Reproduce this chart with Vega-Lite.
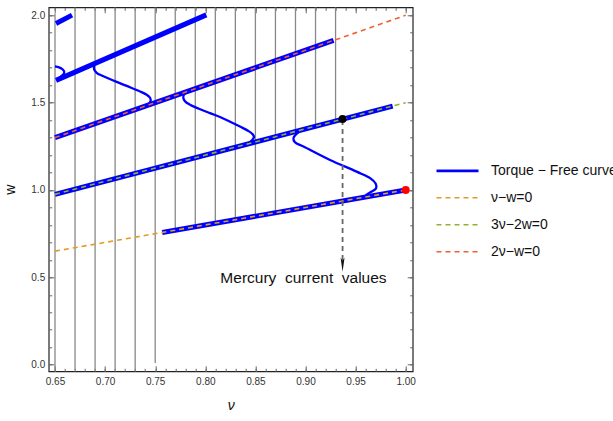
{
  "$schema": "https://vega.github.io/schema/vega-lite/v6.json",
  "width": 364,
  "height": 364,
  "autosize": {"type": "none"},
  "padding": {"left": 48.7, "top": 7.3, "right": 200.3, "bottom": 49.7},
  "background": "white",
  "config": {
    "view": {"stroke": "#222", "strokeWidth": 1.2},
    "axis": {"grid": false, "domain": false, "labelFont": "Liberation Sans", "labelFontSize": 10, "labelColor": "#333", "tickColor": "#666", "tickWidth": 1, "titleFont": "Liberation Sans", "titleFontSize": 14, "titleFontWeight": "normal", "titleColor": "#111", "labelFlush": false, "labelOverlap": false},
    "legend": {"orient": "none", "legendX": 386.3, "legendY": 155.5, "padding": 0, "symbolSize": 1764, "clipHeight": 16, "rowPadding": 11, "labelOffset": 11, "labelFont": "Liberation Sans", "labelFontSize": 14, "labelColor": "#111", "labelLimit": 300, "symbolOpacity": 1}
  },
  "datasets": {
    "verts": [
      {"nu": 0.65, "lo": -0.037, "hi": 2.01},
      {"nu": 0.67, "lo": -0.03, "hi": 2.045},
      {"nu": 0.69, "lo": -0.035, "hi": 2.045},
      {"nu": 0.71, "lo": -0.035, "hi": 2.045},
      {"nu": 0.73, "lo": -0.035, "hi": 2.045},
      {"nu": 0.75, "lo": 0.01, "hi": 2.045},
      {"nu": 0.77, "lo": 0.77, "hi": 2.045},
      {"nu": 0.79, "lo": 0.79, "hi": 2.045},
      {"nu": 0.81, "lo": 0.81, "hi": 2.045},
      {"nu": 0.83, "lo": 0.83, "hi": 2.045},
      {"nu": 0.85, "lo": 0.85, "hi": 2.045},
      {"nu": 0.87, "lo": 0.87, "hi": 2.045},
      {"nu": 0.89, "lo": 1.335, "hi": 2.045},
      {"nu": 0.91, "lo": 1.365, "hi": 2.045},
      {"nu": 0.93, "lo": 1.395, "hi": 2.045}
    ],
    "thick": [
      {"seg": "A", "i": 0, "nu": 0.757, "w": 0.757},
      {"seg": "A", "i": 1, "nu": 1.0, "w": 1.0},
      {"seg": "B", "i": 0, "nu": 0.65, "w": 0.975},
      {"seg": "B", "i": 1, "nu": 0.987, "w": 1.4805},
      {"seg": "C", "i": 0, "nu": 0.65, "w": 1.3},
      {"seg": "C", "i": 1, "nu": 0.928, "w": 1.856},
      {"seg": "D", "i": 0, "nu": 0.651, "w": 1.6275},
      {"seg": "D", "i": 1, "nu": 0.801, "w": 2.0025},
      {"seg": "E", "i": 0, "nu": 0.651, "w": 1.953},
      {"seg": "E", "i": 1, "nu": 0.667, "w": 2.001}
    ],
    "thin": [
      {"seg": "S1", "i": 0, "nu": 0.650, "w": 1.707},
      {"seg": "S1", "i": 1, "nu": 0.654, "w": 1.702},
      {"seg": "S1", "i": 2, "nu": 0.657, "w": 1.693},
      {"seg": "S1", "i": 3, "nu": 0.659, "w": 1.680},
      {"seg": "S1", "i": 4, "nu": 0.659, "w": 1.668},
      {"seg": "S1", "i": 5, "nu": 0.657, "w": 1.655},
      {"seg": "S1", "i": 6, "nu": 0.655, "w": 1.645},
      {"seg": "S2", "i": 0, "nu": 0.6892, "w": 1.722},
      {"seg": "S2", "i": 1, "nu": 0.689, "w": 1.690},
      {"seg": "S2", "i": 2, "nu": 0.6916, "w": 1.671},
      {"seg": "S2", "i": 3, "nu": 0.6966, "w": 1.655},
      {"seg": "S2", "i": 4, "nu": 0.7216, "w": 1.596},
      {"seg": "S2", "i": 5, "nu": 0.7349, "w": 1.564},
      {"seg": "S2", "i": 6, "nu": 0.7415, "w": 1.545},
      {"seg": "S2", "i": 7, "nu": 0.7448, "w": 1.528},
      {"seg": "S2", "i": 8, "nu": 0.7455, "w": 1.512},
      {"seg": "S2", "i": 9, "nu": 0.7441, "w": 1.497},
      {"seg": "S2", "i": 10, "nu": 0.7415, "w": 1.484},
      {"seg": "S3", "i": 0, "nu": 0.7797, "w": 1.557},
      {"seg": "S3", "i": 1, "nu": 0.778, "w": 1.531},
      {"seg": "S3", "i": 2, "nu": 0.7797, "w": 1.508},
      {"seg": "S3", "i": 3, "nu": 0.7847, "w": 1.488},
      {"seg": "S3", "i": 4, "nu": 0.8047, "w": 1.440},
      {"seg": "S3", "i": 5, "nu": 0.8147, "w": 1.418},
      {"seg": "S3", "i": 6, "nu": 0.8346, "w": 1.363},
      {"seg": "S3", "i": 7, "nu": 0.843, "w": 1.338},
      {"seg": "S3", "i": 8, "nu": 0.8475, "w": 1.318},
      {"seg": "S3", "i": 9, "nu": 0.8486, "w": 1.302},
      {"seg": "S3", "i": 10, "nu": 0.8463, "w": 1.283},
      {"seg": "S3", "i": 11, "nu": 0.843, "w": 1.267},
      {"seg": "S4", "i": 0, "nu": 0.8945, "w": 1.338},
      {"seg": "S4", "i": 1, "nu": 0.888, "w": 1.297},
      {"seg": "S4", "i": 2, "nu": 0.8895, "w": 1.273},
      {"seg": "S4", "i": 3, "nu": 0.898, "w": 1.249},
      {"seg": "S4", "i": 4, "nu": 0.9245, "w": 1.172},
      {"seg": "S4", "i": 5, "nu": 0.951, "w": 1.105},
      {"seg": "S4", "i": 6, "nu": 0.9645, "w": 1.068},
      {"seg": "S4", "i": 7, "nu": 0.970, "w": 1.037},
      {"seg": "S4", "i": 8, "nu": 0.9705, "w": 1.010},
      {"seg": "S4", "i": 9, "nu": 0.966, "w": 0.991},
      {"seg": "S4", "i": 10, "nu": 0.960, "w": 0.970}
    ],
    "dashed": [
      {"series": "ν−w=0", "nu": 0.65, "w": 0.65},
      {"series": "ν−w=0", "nu": 1.0, "w": 1.0},
      {"series": "3ν−2w=0", "nu": 0.65, "w": 0.975},
      {"series": "3ν−2w=0", "nu": 1.0, "w": 1.5},
      {"series": "2ν−w=0", "nu": 0.65, "w": 1.3},
      {"series": "2ν−w=0", "nu": 1.0, "w": 2.0}
    ]
  },
  "resolve": {"axis": {"x": "independent", "y": "independent"}},
  "layer": [
    {
      "data": {"name": "verts"},
      "mark": {"type": "rule", "color": "#888", "strokeWidth": 1.3},
      "encoding": {
        "x": {"field": "nu", "type": "quantitative", "scale": {"domain": [0.64371, 1.00699], "nice": false, "zero": false},
              "axis": {"orient": "bottom", "values": [0.65, 0.7, 0.75, 0.8, 0.85, 0.9, 0.95, 1.0], "format": ".2f", "ticks": false, "labelPadding": 5, "title": "ν", "titleFontStyle": "italic", "titlePadding": 12}},
        "y": {"field": "lo", "type": "quantitative", "scale": {"domain": [-0.0378, 2.0458], "nice": false, "zero": false},
              "axis": {"orient": "left", "values": [0, 0.5, 1, 1.5, 2], "format": ".1f", "ticks": false, "labelPadding": 4, "title": "w", "titlePadding": 13}},
        "y2": {"field": "hi"}
      }
    },
    {
      "data": {"name": "thick"},
      "mark": {"type": "line", "strokeWidth": 5},
      "encoding": {
        "x": {"field": "nu", "type": "quantitative", "scale": {"domain": [0.64371, 1.00699], "nice": false, "zero": false},
              "axis": {"orient": "bottom", "values": [0.65, 0.7, 0.75, 0.8, 0.85, 0.9, 0.95, 1.0], "labels": false, "tickSize": -5.5, "title": null}},
        "y": {"field": "w", "type": "quantitative", "scale": {"domain": [-0.0378, 2.0458], "nice": false, "zero": false},
              "axis": {"orient": "left", "values": [0, 0.5, 1, 1.5, 2], "labels": false, "tickSize": -5.5, "title": null}},
        "detail": {"field": "seg"},
        "order": {"field": "i"},
        "color": {"datum": "Torque − Free curve"}
      }
    },
    {
      "data": {"name": "thin"},
      "mark": {"type": "line", "strokeWidth": 2.3, "interpolate": "catmull-rom"},
      "encoding": {
        "x": {"field": "nu", "type": "quantitative", "scale": {"domain": [0.64371, 1.00699], "nice": false, "zero": false},
              "axis": {"orient": "bottom", "values": [0.65,0.66,0.67,0.68,0.69,0.7,0.71,0.72,0.73,0.74,0.75,0.76,0.77,0.78,0.79,0.8,0.81,0.82,0.83,0.84,0.85,0.86,0.87,0.88,0.89,0.9,0.91,0.92,0.93,0.94,0.95,0.96,0.97,0.98,0.99,1.0], "labels": false, "tickSize": -3, "title": null}},
        "y": {"field": "w", "type": "quantitative", "scale": {"domain": [-0.0378, 2.0458], "nice": false, "zero": false},
              "axis": {"orient": "left", "values": [0,0.1,0.2,0.3,0.4,0.5,0.6,0.7,0.8,0.9,1.0,1.1,1.2,1.3,1.4,1.5,1.6,1.7,1.8,1.9,2.0], "labels": false, "tickSize": -3, "title": null}},
        "detail": {"field": "seg"},
        "order": {"field": "i"},
        "color": {"datum": "Torque − Free curve"}
      }
    },
    {
      "data": {"name": "dashed"},
      "mark": {"type": "line"},
      "encoding": {
        "x": {"field": "nu", "type": "quantitative", "scale": {"domain": [0.64371, 1.00699], "nice": false, "zero": false},
              "axis": {"orient": "top", "values": [0.65, 0.7, 0.75, 0.8, 0.85, 0.9, 0.95, 1.0], "labels": false, "tickSize": -5.5, "title": null}},
        "y": {"field": "w", "type": "quantitative", "scale": {"domain": [-0.0378, 2.0458], "nice": false, "zero": false},
              "axis": {"orient": "right", "values": [0, 0.5, 1, 1.5, 2], "labels": false, "tickSize": -5.5, "title": null}},
        "color": {"field": "series", "type": "nominal",
                  "scale": {"domain": ["Torque − Free curve", "ν−w=0", "3ν−2w=0", "2ν−w=0"], "range": ["#0000ff", "#E19C24", "#8FB032", "#EB6235"]},
                  "legend": {"title": null}},
        "strokeDash": {"field": "series", "type": "nominal",
                  "scale": {"domain": ["Torque − Free curve", "ν−w=0", "3ν−2w=0", "2ν−w=0"], "range": [[1, 0], [5, 4], [5, 4], [5, 4]]},
                  "legend": {"title": null}},
        "strokeWidth": {"field": "series", "type": "nominal",
                  "scale": {"type": "ordinal", "domain": ["Torque − Free curve", "ν−w=0", "3ν−2w=0", "2ν−w=0"], "range": [2.8, 1.6, 1.6, 1.6]},
                  "legend": {"title": null}}
      }
    },
    {
      "data": {"values": [{"nu": 0.937, "w1": 1.40, "w2": 0.585}]},
      "mark": {"type": "rule", "color": "#666", "strokeWidth": 1.8, "strokeDash": [5, 4]},
      "encoding": {
        "x": {"field": "nu", "type": "quantitative", "axis": null},
        "y": {"field": "w1", "type": "quantitative", "axis": null},
        "y2": {"field": "w2"}
      }
    },
    {
      "data": {"values": [{"nu": 0.937, "w": 0.572}]},
      "mark": {"type": "point", "filled": true, "opacity": 1, "color": "#111", "size": 196, "shape": "M-0.28,-1L0,1L0.28,-1L0,-0.6Z"},
      "encoding": {
        "x": {"field": "nu", "type": "quantitative", "axis": null},
        "y": {"field": "w", "type": "quantitative", "axis": null}
      }
    },
    {
      "data": {"values": [{"nu": 0.937, "w": 1.406, "c": "#000000"}, {"nu": 1.0, "w": 1.0, "c": "#ff0000"}]},
      "mark": {"type": "point", "filled": true, "opacity": 1, "size": 64, "shape": "circle"},
      "encoding": {
        "x": {"field": "nu", "type": "quantitative", "scale": {"domain": [0.64371, 1.00699], "nice": false, "zero": false},
              "axis": {"orient": "top", "values": [0.65,0.66,0.67,0.68,0.69,0.7,0.71,0.72,0.73,0.74,0.75,0.76,0.77,0.78,0.79,0.8,0.81,0.82,0.83,0.84,0.85,0.86,0.87,0.88,0.89,0.9,0.91,0.92,0.93,0.94,0.95,0.96,0.97,0.98,0.99,1.0], "labels": false, "tickSize": -3, "title": null}},
        "y": {"field": "w", "type": "quantitative", "scale": {"domain": [-0.0378, 2.0458], "nice": false, "zero": false},
              "axis": {"orient": "right", "values": [0,0.1,0.2,0.3,0.4,0.5,0.6,0.7,0.8,0.9,1.0,1.1,1.2,1.3,1.4,1.5,1.6,1.7,1.8,1.9,2.0], "labels": false, "tickSize": -3, "title": null}},
        "fill": {"field": "c", "type": "nominal", "scale": null}
      }
    },
    {
      "data": {"values": [{"nu": 0.898, "w": 0.499, "label": "Mercury\u00a0 current\u00a0 values"}]},
      "mark": {"type": "text", "font": "Liberation Sans", "fontSize": 15.5, "color": "#111", "align": "center", "baseline": "middle"},
      "encoding": {
        "x": {"field": "nu", "type": "quantitative", "axis": null},
        "y": {"field": "w", "type": "quantitative", "axis": null},
        "text": {"field": "label"}
      }
    }
  ]
}
